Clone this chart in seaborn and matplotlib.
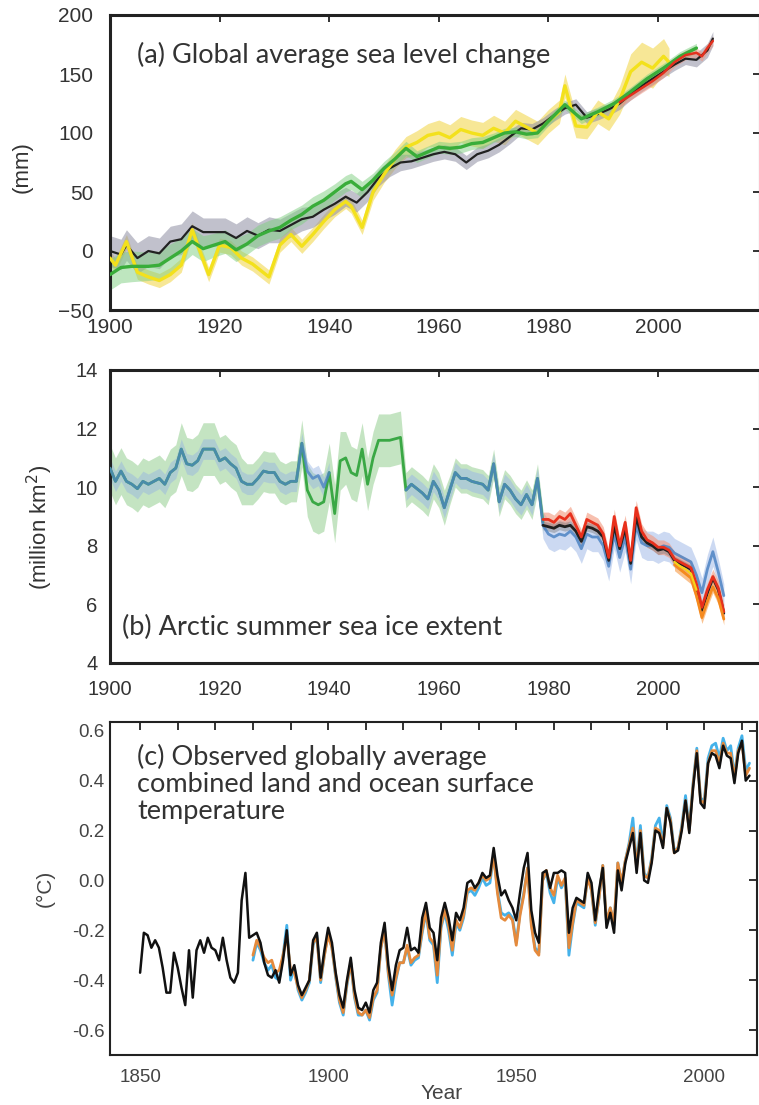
import numpy as np
import matplotlib
matplotlib.use("Agg")
import matplotlib.pyplot as plt
from matplotlib.ticker import MultipleLocator
import seaborn as sns

# ---------------- (a) global mean sea level (mm) ----------------
sl_black_years = [1900, 1902, 1903, 1905, 1907, 1909,
                  1911, 1913, 1915, 1917, 1919, 1921, 1923, 1925, 1927, 1929, 1931, 1933, 1935, 1937, 1939,
                  1941, 1943, 1945, 1947, 1949, 1951, 1953, 1955, 1957, 1959,
                  1961, 1963, 1965, 1967, 1969, 1971, 1973, 1975, 1977, 1979,
                  1981, 1983, 1985, 1987, 1989, 1991, 1993, 1995, 1997, 1999,
                  2001, 2003, 2005, 2007, 2009, 2010]
sl_black = [0, -3, 5, -6, 0, -2,
            8, 10, 21, 16, 16, 16, 11, 17, 13, 18, 17, 22, 27, 29, 35,
            40, 46, 41, 50, 62, 70, 75, 76, 79, 82,
            84, 82, 75, 82, 85, 90, 97, 104, 103, 108,
            115, 121, 124, 113, 116, 120, 125, 133, 140, 146,
            152, 158, 163, 162, 170, 180]
sl_black_err = [13, 13, 13, 13, 13, 13,
                13, 13, 13, 12, 12, 12, 12, 12, 11, 11, 10, 10, 10, 9, 9,
                9, 8, 8, 8, 7, 7, 7, 6, 6, 6,
                6, 6, 6, 6, 6, 6, 6, 5, 5, 5,
                5, 5, 5, 5, 5, 5, 5, 5, 5, 5,
                5, 5, 5, 6, 6, 6]

sl_green_years = [1900, 1902, 1904, 1907, 1909,
                  1911, 1913, 1915, 1917, 1919, 1921, 1923, 1925, 1927, 1929, 1931, 1933, 1935, 1937, 1939, 1941, 1943,
                  1944, 1946, 1948, 1950, 1952, 1954, 1956, 1958, 1960, 1962, 1964, 1966, 1968, 1970, 1972, 1974, 1976, 1978,
                  1980, 1983, 1986, 1989, 1992, 1995, 1998, 2001, 2004, 2007]
sl_green = [-20, -14, -13, -13, -12,
            -6, 0, 8, 2, 5, 8, 1, 6, 13, 17, 20, 26, 31, 38, 43, 50, 57,
            59, 52, 60, 70, 78, 87, 80, 84, 88, 87, 88, 91, 92, 96, 100, 101, 99, 100,
            110, 124, 112, 118, 125, 135, 146, 155, 165, 172]
sl_green_err = [13, 13, 13, 12, 12,
                12, 11, 11, 11, 10, 10, 10, 9, 9, 9, 9, 8, 8, 8, 8, 7, 7,
                7, 7, 6, 6, 6, 6, 5, 5, 5, 5, 5, 5, 5, 4, 4, 4, 4, 4,
                4, 4, 4, 4, 4, 4, 4, 4, 4, 4]

sl_yellow_years = [1900, 1901, 1903, 1905, 1907, 1909, 1911, 1913, 1915, 1916,
                   1918, 1920, 1922, 1924, 1926, 1929, 1931, 1933, 1935, 1937,
                   1939, 1941, 1943, 1944, 1946, 1948, 1950, 1952, 1954, 1956,
                   1958, 1960, 1962, 1964, 1966, 1968, 1970, 1972, 1974, 1976,
                   1978, 1980, 1982, 1983, 1985, 1987, 1989, 1991, 1993, 1995,
                   1997, 1999, 2001, 2002]
sl_yellow = [-6, -12, 8, -18, -22, -25, -20, -12, 18, 5,
             -20, 5, 3, -6, -11, -22, 5, 14, 4, 14,
             25, 35, 42, 38, 20, 50, 65, 78, 88, 92,
             98, 100, 96, 103, 100, 98, 104, 100, 110, 105,
             100, 110, 118, 140, 106, 105, 118, 112, 128, 152,
             160, 155, 165, 160]
sl_yellow_err = [6, 6, 6, 6, 6, 6, 6, 6, 6, 6,
                 6, 6, 6, 6, 6, 6, 6, 6, 6, 6,
                 6, 6, 6, 6, 6, 7, 7, 8, 9, 10,
                 10, 11, 11, 11, 11, 11, 11, 10, 10, 10,
                 10, 10, 10, 10, 10, 10, 10, 10, 12, 15,
                 17, 17, 15, 12]

sl_red_years = [1993, 1995, 1997, 1999, 2001, 2003, 2005, 2007, 2008, 2009, 2010]
sl_red = [126, 132, 138, 144, 151, 160, 166, 168, 165, 172, 178]
sl_red_err = 4

# ---------------- (b) Arctic summer sea ice extent (million km2) ----------------
ice_green_years = list(range(1900, 1980))
ice_green = [10.65, 10.2, 10.55, 10.2, 10.1, 9.95, 10.2, 10.1, 10.2, 10.3,
             10.1, 10.5, 10.65, 11.3, 10.8, 10.75, 10.9, 11.3, 11.3, 11.3,
             10.9, 11.0, 10.8, 10.65, 10.2, 10.1, 10.1, 10.3, 10.55, 10.5,
             10.5, 10.2, 10.1, 10.2, 10.2, 11.5, 9.9, 9.5, 9.4, 9.5,
             10.5, 9.1, 10.9, 11.0, 10.5, 10.4, 11.3, 10.1, 11.0, 11.6,
             11.6, 11.6, 11.65, 11.7, 9.9, 10.1, 9.95, 9.8, 9.6, 10.2,
             9.9, 9.3, 9.9, 10.5, 10.3, 10.3, 10.2, 10.15, 10.1, 9.9,
             10.8, 9.5, 10.1, 9.9, 9.6, 9.4, 9.75, 9.4, 10.3, 8.8]
ice_green_err = [0.8, 0.8, 0.8, 0.8, 0.8, 0.8, 0.8, 0.8, 0.8, 0.8,
                 0.8, 0.8, 0.8, 0.9, 0.9, 0.9, 0.9, 0.9, 0.9, 0.9,
                 0.8, 0.8, 0.8, 0.8, 0.8, 0.7, 0.7, 0.7, 0.7, 0.7,
                 0.7, 0.7, 0.7, 0.7, 0.7, 0.8, 0.9, 1.0, 1.0, 1.0,
                 1.0, 1.0, 1.0, 0.9, 0.9, 0.9, 0.9, 0.9, 0.9, 0.9,
                 0.9, 0.9, 0.9, 0.9, 0.6, 0.6, 0.6, 0.6, 0.6, 0.6,
                 0.6, 0.6, 0.5, 0.5, 0.5, 0.5, 0.5, 0.5, 0.5, 0.5,
                 0.5, 0.5, 0.5, 0.5, 0.5, 0.5, 0.5, 0.5, 0.5, 0.4]

ice_blue_early_years = list(range(1900, 1941))
ice_blue_early = [10.65, 10.2, 10.55, 10.2, 10.1, 9.95, 10.2, 10.1, 10.2, 10.3,
                  10.1, 10.5, 10.65, 11.3, 10.8, 10.75, 10.9, 11.3, 11.3, 11.3,
                  10.9, 11.0, 10.8, 10.65, 10.2, 10.1, 10.1, 10.3, 10.55, 10.5,
                  10.5, 10.2, 10.1, 10.2, 10.2, 11.5, 10.55, 10.3, 10.4, 10.0,
                  10.5]
ice_blue_early_err = 0.35

ice_blue_late_years = list(range(1954, 2013))
ice_blue_late = [9.9, 10.1, 9.95, 9.8, 9.6, 10.2,
                 9.9, 9.3, 9.9, 10.5, 10.3, 10.3, 10.2, 10.15, 10.1, 9.9,
                 10.8, 9.5, 10.1, 9.9, 9.6, 9.4, 9.75, 9.4, 10.3, 8.7,
                 8.4, 8.3, 8.4, 8.35, 8.5, 8.3, 7.9, 8.4, 8.3, 8.3,
                 8.0, 7.3, 8.4, 7.6, 8.3, 7.2, 8.7, 8.1, 8.0, 8.0,
                 7.9, 8.0, 7.95, 7.75, 7.65, 7.55, 7.45, 7.0, 6.4, 7.2,
                 7.8, 7.1, 6.3]
ice_blue_late_err = [0.35, 0.35, 0.35, 0.35, 0.35, 0.35,
                     0.35, 0.35, 0.35, 0.35, 0.35, 0.35, 0.35, 0.35, 0.35, 0.35,
                     0.35, 0.35, 0.35, 0.35, 0.35, 0.35, 0.35, 0.35, 0.35, 0.45,
                     0.5, 0.5, 0.5, 0.5, 0.5, 0.5, 0.5, 0.5, 0.5, 0.5,
                     0.5, 0.5, 0.5, 0.5, 0.5, 0.5, 0.5, 0.5, 0.5, 0.5,
                     0.5, 0.5, 0.5, 0.5, 0.5, 0.5, 0.5, 0.5, 0.5, 0.5,
                     0.5, 0.45, 0.4]

ice_sat_years = list(range(1979, 2013))
ice_black = [8.7, 8.65, 8.6, 8.7, 8.65, 8.7, 8.5, 8.15, 8.65, 8.6,
             8.5, 8.3, 7.5, 8.7, 7.9, 8.6, 7.4, 9.0, 8.3, 8.1,
             8.0, 7.85, 7.9, 7.8, 7.5, 7.4, 7.3, 7.2, 6.6, 5.8,
             6.4, 6.9, 6.5, 5.7]
ice_red = [8.9, 8.9, 8.8, 9.0, 8.9, 9.1, 8.7, 8.3, 8.9, 8.8,
           8.7, 8.4, 7.6, 9.0, 8.0, 8.8, 7.5, 9.3, 8.5, 8.2,
           8.1, 7.95, 7.95, 7.85, 7.55, 7.45, 7.35, 7.25, 6.7, 5.9,
           6.5, 6.95, 6.55, 5.75]
ice_red_err = 0.25
ice_black_err = 0.15

ice_orange_years = list(range(2003, 2013))
ice_orange = [7.35, 7.2, 7.05, 6.9, 6.3, 5.55, 6.1, 6.6, 6.2, 5.5]
ice_orange_err = 0.2
ice_yellow_years = list(range(2003, 2008))
ice_yellow = [7.45, 7.3, 7.2, 7.05, 6.5]

# ---------------- (c) global surface temperature anomaly (degC) ----------------
t_black_years = list(range(1850, 2013))
t_black = [-0.37, -0.21, -0.22, -0.27, -0.24, -0.27, -0.35, -0.45, -0.45, -0.29,
           -0.35, -0.43, -0.50, -0.28, -0.47, -0.28, -0.24, -0.29, -0.23, -0.27,
           -0.28, -0.32, -0.23, -0.32, -0.39, -0.41, -0.37, -0.08, 0.03, -0.23,
           -0.22, -0.21, -0.25, -0.33, -0.38, -0.39, -0.36, -0.41, -0.32, -0.20,
           -0.38, -0.34, -0.42, -0.46, -0.43, -0.40, -0.24, -0.21, -0.39, -0.28,
           -0.19, -0.25, -0.37, -0.46, -0.51, -0.40, -0.31, -0.44, -0.51, -0.52,
           -0.49, -0.53, -0.44, -0.41, -0.25, -0.17, -0.34, -0.44, -0.34, -0.28,
           -0.27, -0.19, -0.28, -0.27, -0.29, -0.15, -0.09, -0.19, -0.21, -0.32,
           -0.15, -0.09, -0.15, -0.24, -0.13, -0.16, -0.11, -0.01, 0.00, -0.03,
           -0.01, 0.03, 0.01, 0.02, 0.13, 0.02, -0.06, -0.04, -0.08, -0.11,
           -0.16, -0.05, 0.05, 0.11, -0.12, -0.21, -0.25, 0.03, 0.04, -0.03,
           0.03, 0.03, 0.04, 0.03, -0.21, -0.11, -0.07, -0.08, -0.09, 0.03,
           -0.01, -0.16, -0.04, 0.05, -0.19, -0.13, -0.21, 0.04, -0.04, 0.07,
           0.13, 0.19, 0.03, 0.19, 0.00, -0.01, 0.07, 0.20, 0.19, 0.13,
           0.29, 0.23, 0.11, 0.12, 0.20, 0.32, 0.19, 0.37, 0.51, 0.31,
           0.29, 0.47, 0.51, 0.50, 0.45, 0.54, 0.50, 0.49, 0.39, 0.51,
           0.56, 0.40, 0.42]

t_other_years = list(range(1880, 2013))
t_orange = [-0.30, -0.24, -0.27, -0.31, -0.33, -0.32, -0.37, -0.36, -0.30, -0.22,
            -0.36, -0.37, -0.43, -0.47, -0.44, -0.40, -0.25, -0.23, -0.40, -0.30,
            -0.22, -0.27, -0.38, -0.48, -0.53, -0.41, -0.33, -0.46, -0.53, -0.54,
            -0.52, -0.55, -0.47, -0.44, -0.27, -0.20, -0.37, -0.46, -0.39, -0.33,
            -0.33, -0.26, -0.33, -0.31, -0.30, -0.20, -0.12, -0.23, -0.25, -0.38,
            -0.18, -0.12, -0.18, -0.28, -0.16, -0.19, -0.14, -0.04, -0.03, -0.04,
            -0.01, 0.02, 0.00, 0.01, 0.10, -0.05, -0.15, -0.16, -0.14, -0.16,
            -0.26, -0.14, -0.06, 0.05, -0.18, -0.28, -0.30, 0.00, 0.04, -0.03,
            -0.06, 0.02, -0.02, 0.01, -0.27, -0.17, -0.08, -0.09, -0.10, 0.01,
            -0.04, -0.17, -0.07, 0.06, -0.17, -0.11, -0.17, 0.07, -0.01, 0.08,
            0.14, 0.21, 0.05, 0.20, 0.02, 0.01, 0.08, 0.21, 0.20, 0.14,
            0.29, 0.24, 0.11, 0.13, 0.21, 0.32, 0.20, 0.38, 0.52, 0.32,
            0.31, 0.47, 0.52, 0.52, 0.47, 0.55, 0.51, 0.51, 0.41, 0.52,
            0.55, 0.42, 0.45]
t_blue = [-0.32, -0.25, -0.28, -0.33, -0.36, -0.34, -0.39, -0.40, -0.30, -0.18,
          -0.40, -0.35, -0.44, -0.48, -0.45, -0.41, -0.26, -0.22, -0.41, -0.30,
          -0.21, -0.27, -0.39, -0.49, -0.54, -0.42, -0.33, -0.47, -0.54, -0.54,
          -0.52, -0.56, -0.48, -0.45, -0.27, -0.20, -0.38, -0.50, -0.40, -0.33,
          -0.33, -0.27, -0.34, -0.32, -0.31, -0.21, -0.13, -0.24, -0.26, -0.41,
          -0.19, -0.13, -0.20, -0.30, -0.17, -0.20, -0.15, -0.05, -0.04, -0.06,
          -0.03, 0.01, -0.02, -0.01, 0.10, -0.04, -0.13, -0.14, -0.13, -0.15,
          -0.25, -0.13, -0.05, 0.05, -0.17, -0.27, -0.29, 0.00, 0.03, -0.05,
          -0.09, 0.01, -0.03, 0.00, -0.30, -0.18, -0.09, -0.10, -0.11, 0.02,
          -0.04, -0.18, -0.07, 0.06, -0.17, -0.11, -0.18, 0.07, -0.01, 0.08,
          0.15, 0.25, 0.06, 0.22, 0.03, 0.01, 0.09, 0.22, 0.25, 0.15,
          0.30, 0.25, 0.12, 0.13, 0.22, 0.34, 0.21, 0.39, 0.53, 0.33,
          0.32, 0.49, 0.54, 0.55, 0.49, 0.57, 0.52, 0.54, 0.42, 0.53,
          0.58, 0.44, 0.47]

sl_yticks = [-50, 0, 50, 100, 150, 200]
sl_ylabels = ["\u221250", "0", "50", "100", "150", "200"]
ice_yticks = [4, 6, 8, 10, 12, 14]
t_yticks = [-0.6, -0.4, -0.2, 0.0, 0.2, 0.4, 0.6]
t_ylabels = ["-0.6", "-0.4", "-0.2", "0.0", "0.2", "0.4", "0.6"]

TXT = "#333333"
W, H = 759, 1105
PANEL_FONT = ["Lato", "DejaVu Sans"]


def band(ax, years, vals, err, color, alpha):
    v = np.asarray(vals, float)
    e = np.asarray(err, float)
    ax.fill_between(years, v - e, v + e, color=color, alpha=alpha, lw=0, zorder=2)


def line(ax, years, vals, color, lw=2.0, alpha=1.0, z=3):
    sns.lineplot(x=years, y=vals, ax=ax, color=color, linewidth=lw,
                 alpha=alpha, zorder=z, legend=False)


def frame(ax, spine_w, size, color):
    for s in ax.spines.values():
        s.set_linewidth(spine_w)
        s.set_color("#222222")
    ax.tick_params(which="both", direction="in", top=True, right=True,
                   width=1.3, colors="#222222", labelcolor=color, labelsize=size)
    ax.set_xlabel("")
    ax.set_ylabel("")


def run():
    sns.set_theme(style="white")
    plt.rcParams["font.family"] = ["Liberation Sans", "DejaVu Sans"]

    fig = plt.figure(figsize=(W / 100, H / 100), dpi=100)

    # ---- panel (a)
    ax = fig.add_axes([110 / W, 1 - 310 / H, 650 / W, 295 / H])
    band(ax, sl_yellow_years, sl_yellow, sl_yellow_err, "#f2d850", 0.6)
    band(ax, sl_black_years, sl_black, sl_black_err, "#8f8fa3", 0.55)
    band(ax, sl_green_years, sl_green, sl_green_err, "#7fcf80", 0.5)
    band(ax, sl_red_years, sl_red, sl_red_err, "#f0907c", 0.5)
    line(ax, sl_black_years, sl_black, "#222222", 1.6)
    line(ax, sl_yellow_years, sl_yellow, "#f3e11c", 2.4)
    line(ax, sl_green_years, sl_green, "#39ad3a", 2.4)
    line(ax, sl_red_years, sl_red, "#e3301d", 1.8)
    ax.set_xlim(1900, 2018.6)
    ax.set_ylim(-50, 200)
    ax.xaxis.set_major_locator(MultipleLocator(20))
    ax.xaxis.set_minor_locator(MultipleLocator(5))
    ax.set_yticks(sl_yticks, sl_ylabels)
    frame(ax, 2.2, 15, TXT)
    ax.tick_params(which="major", length=5)
    ax.tick_params(which="minor", length=4, top=False)
    ax.tick_params(axis="y", pad=12)
    ax.tick_params(axis="x", pad=6)
    ax.set_ylabel("(mm)", fontsize=16, color=TXT)
    ax.yaxis.set_label_coords(-0.135, 0.485)
    ax.yaxis.label.set_va("center")
    fig.text(137 / W, 1 - 55 / H, "(a) Global average sea level change",
             family=PANEL_FONT, fontsize=19.5, color=TXT,
             ha="left", va="center")

    # ---- panel (b)
    ax = fig.add_axes([110 / W, 1 - 663 / H, 650 / W, 293 / H])
    band(ax, ice_green_years, ice_green, ice_green_err, "#9ed39a", 0.6)
    band(ax, ice_blue_early_years, ice_blue_early, ice_blue_early_err, "#95b3e3", 0.45)
    band(ax, ice_blue_late_years, ice_blue_late, ice_blue_late_err, "#9ab5e6", 0.5)
    band(ax, ice_sat_years, ice_red, ice_red_err, "#f3967a", 0.6)
    band(ax, ice_sat_years, ice_black, ice_black_err, "#777777", 0.4)
    band(ax, ice_orange_years, ice_orange, ice_orange_err, "#f8a860", 0.7)
    line(ax, ice_green_years, ice_green, "#3aa845", 2.0)
    line(ax, ice_blue_early_years, ice_blue_early, "#4d84c4", 2.0, alpha=0.8)
    line(ax, ice_blue_late_years, ice_blue_late, "#4d84c4", 2.0, alpha=0.85)
    line(ax, ice_sat_years, ice_black, "#202020", 2.0)
    line(ax, ice_sat_years, ice_red, "#e8301c", 2.0)
    line(ax, ice_orange_years, ice_orange, "#f58a1e", 2.0)
    line(ax, ice_yellow_years, ice_yellow, "#f5d419", 1.6)
    ax.set_xlim(1900, 2018.6)
    ax.set_ylim(4, 14)
    ax.xaxis.set_major_locator(MultipleLocator(20))
    ax.xaxis.set_minor_locator(MultipleLocator(5))
    ax.set_yticks(ice_yticks)
    frame(ax, 2.2, 14.5, TXT)
    ax.tick_params(which="major", length=5)
    ax.tick_params(which="minor", length=4, top=False)
    ax.tick_params(axis="y", pad=9)
    ax.tick_params(axis="x", pad=12)
    ax.set_ylabel("(million km$^2$)", fontsize=16, color=TXT)
    ax.yaxis.set_label_coords(-0.108, 0.464)
    ax.yaxis.label.set_va("center")
    fig.text(122 / W, 1 - 627 / H, "(b) Arctic summer sea ice extent",
             family=PANEL_FONT, fontsize=19.5, color=TXT,
             ha="left", va="center")

    # ---- panel (c)
    ax = fig.add_axes([110 / W, 1 - 1055 / H, 647 / W, 333 / H])
    line(ax, t_other_years, t_blue, "#45b2ea", 2.0)
    line(ax, t_other_years, t_orange, "#e58a3c", 2.0)
    line(ax, t_black_years, t_black, "#111111", 1.8)
    ax.set_xlim(1842, 2014)
    ax.set_ylim(-0.70, 0.635)
    ax.xaxis.set_major_locator(MultipleLocator(50))
    ax.xaxis.set_minor_locator(MultipleLocator(10))
    ax.set_yticks(t_yticks, t_ylabels)
    frame(ax, 1.5, 13.5, "#444444")
    ax.tick_params(which="both", length=6)
    ax.tick_params(axis="y", pad=4)
    ax.tick_params(axis="x", pad=10)
    ax.set_ylabel("(\u00b0C)", fontsize=15, color="#444444")
    ax.yaxis.set_label_coords(-0.1005, 0.50)
    ax.yaxis.label.set_va("center")
    ax.set_xlabel("Year", fontsize=15, color="#444444")
    ax.xaxis.set_label_coords(0.513, -0.115)
    ax.xaxis.label.set_va("center")
    fig.text(137 / W, 1 - 744 / H,
             "(c) Observed globally average\ncombined land and ocean surface\ntemperature",
             family=PANEL_FONT, fontsize=19.5, color=TXT,
             ha="left", va="top", linespacing=1.1)

    fig.savefig("out.png", dpi=100)
    plt.close(fig)


if __name__ == "__main__":
    run()
